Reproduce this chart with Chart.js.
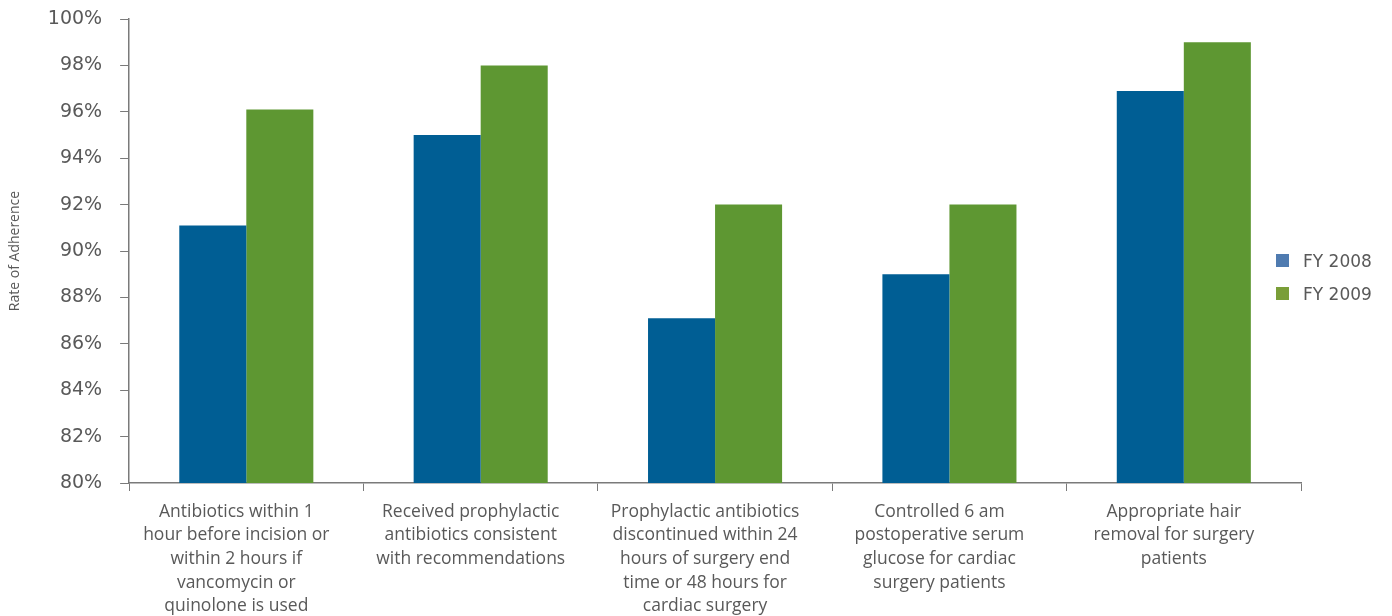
<!DOCTYPE html>
<html lang="en">
<head>
  <meta charset="UTF-8" />
  <title>Rate of Adherence</title>
  <script src="https://cdn.jsdelivr.net/npm/chart.js@4.4.1/dist/chart.umd.min.js"></script>
  <style>
    html, body { margin: 0; padding: 0; background: #fff; }
    #wrap { position: relative; width: 1392px; height: 616px; }
    #legend {
      position: absolute; left: 1276px; top: 244px;
      font-family: 'DejaVu Sans', sans-serif; font-size: 17px; color: #595959;
    }
    #legend .item { display: flex; align-items: center; height: 33px; }
    #legend .box { width: 13px; height: 13px; margin-right: 14px; }
  </style>
</head>
<body>
  <div id="wrap">
    <canvas id="chart" width="1392" height="616"></canvas>
    <div id="legend"></div>
  </div>

<script>
  // categorias (quebradas em linhas como no relatório)
  const categories = [
    ['Antibiotics within 1', 'hour before incision or', 'within 2 hours if', 'vancomycin or', 'quinolone is used'],
    ['Received prophylactic', 'antibiotics consistent', 'with recommendations'],
    ['Prophylactic antibiotics', 'discontinued within 24', 'hours of surgery end', 'time or 48 hours for', 'cardiac surgery'],
    ['Controlled 6 am', 'postoperative serum', 'glucose for cardiac', 'surgery patients'],
    ['Appropriate hair', 'removal for surgery', 'patients']
  ];

  const seriesNames = ['FY 2008', 'FY 2009'];
  const fy2008 = [91.1, 95.0, 87.1, 89.0, 96.9];
  const fy2009 = [96.1, 98.0, 92.0, 92.0, 99.0];

  const barColors = ['#005E94', '#5E9732'];
  const legendColors = ['#4F7BB0', '#7A9E38'];

  const yTicks = { min: 80, max: 100, step: 2 };

  const axisColor = '#7a7a7a';
  const textColor = '#595959';

  // legenda em HTML à direita
  const legendEl = document.getElementById('legend');
  seriesNames.forEach((name, i) => {
    const item = document.createElement('div');
    item.className = 'item';
    item.innerHTML = `<span class="box" style="background:${legendColors[i]}"></span>${name}`;
    legendEl.appendChild(item);
  });

  new Chart(document.getElementById('chart'), {
    type: 'bar',
    data: {
      labels: categories,
      datasets: [
        { label: seriesNames[0], data: fy2008, backgroundColor: barColors[0] },
        { label: seriesNames[1], data: fy2009, backgroundColor: barColors[1] }
      ]
    },
    options: {
      responsive: false,
      animation: false,
      datasets: {
        bar: { barPercentage: 1.0, categoryPercentage: 0.572 }
      },
      layout: { padding: { top: 0, right: 91, left: 1, bottom: 0 } },
      plugins: {
        legend: { display: false },
        tooltip: { enabled: false }
      },
      scales: {
        x: {
          // altura fixa do eixo: os rótulos longos ocupam o rodapé todo
          afterFit: s => { s.height = 133; },
          grid: {
            offset: true,
            drawOnChartArea: false,
            drawTicks: true,
            tickLength: 8,
            color: axisColor
          },
          border: { color: axisColor, width: 1.5 },
          ticks: {
            color: textColor,
            maxRotation: 0,
            autoSkip: false,
            padding: 9,
            labelOffset: -10,
            font: { family: "'Open Sans', sans-serif", size: 17.5, lineHeight: '23.6px' }
          }
        },
        y: {
          min: yTicks.min,
          max: yTicks.max,
          // o padding dos ticks também empurra o topo; fixa o topo do eixo
          afterFit: s => { s.paddingTop = 19; },
          grid: {
            drawOnChartArea: false,
            tickLength: 9,
            color: axisColor
          },
          border: { color: axisColor, width: 1.5 },
          ticks: {
            stepSize: yTicks.step,
            color: textColor,
            padding: 18,
            font: { family: "'DejaVu Sans', sans-serif", size: 19 },
            callback: v => v + '%'
          },
          title: {
            display: true,
            text: 'Rate of Adherence',
            color: textColor,
            padding: { top: 6, bottom: 6 },
            font: { family: "'Open Sans', sans-serif", size: 14 }
          }
        }
      }
    }
  });
</script>
</body>
</html>
